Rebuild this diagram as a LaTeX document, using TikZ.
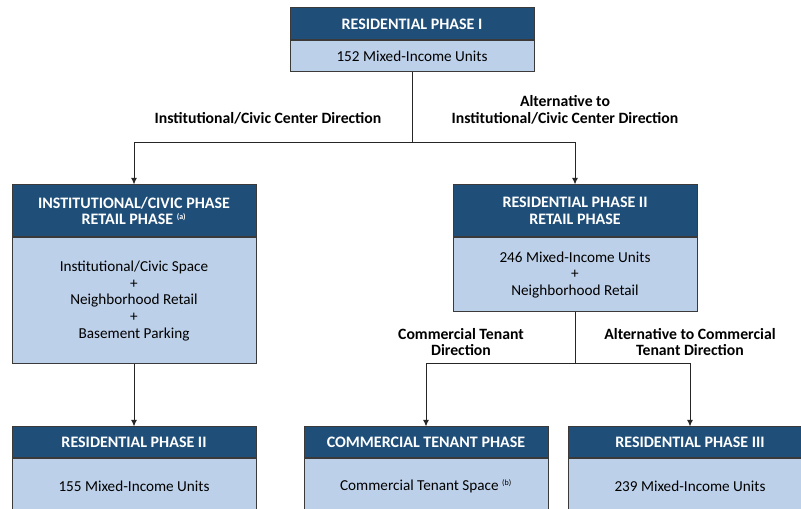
\documentclass[tikz,border=0pt]{standalone}
\usepackage{fontspec}
\setmainfont{Carlito}
\usetikzlibrary{positioning,arrows.meta}

\definecolor{hdrblue}{HTML}{1F4E79}
\definecolor{bdyblue}{HTML}{BDD0E9}
\definecolor{edgegray}{HTML}{3A3A3A}

\newcommand{\noteref}[1]{\textsuperscript{\fontsize{6}{6}\selectfont(#1)}}

\tikzset{
  hdr/.style={draw=edgegray,line width=0.75pt,fill=hdrblue,text=white,
    font=\bfseries\fontsize{12}{12.6}\selectfont,align=center,
    minimum width=183pt,inner sep=0pt},
  bdy/.style={draw=edgegray,line width=0.75pt,fill=bdyblue,
    font=\fontsize{11.4}{12.6}\selectfont,align=center,
    minimum width=183pt,inner sep=0pt},
  lbl/.style={font=\bfseries\fontsize{11.8}{12.6}\selectfont,align=center},
  arr/.style={draw=black!85,line width=0.75pt,-{Latex[length=5pt,width=4.5pt]}}
}

\begin{document}
\begin{tikzpicture}[x=0.75pt,y=-0.75pt]
    \useasboundingbox (0,0) rectangle (801,509);

    % phase I
    \node[hdr,minimum height=24pt] (resI) at (412,24) {RESIDENTIAL PHASE I};
    \node[bdy,minimum height=23.25pt,below=0pt of resI] (resIb) {152 Mixed-Income Units};

    % second level
    \node[hdr,minimum height=39pt] (civ) at (134,211)
      {INSTITUTIONAL/CIVIC PHASE\\RETAIL PHASE \noteref{a}};
    \node[bdy,minimum height=94.5pt,below=0pt of civ] (civb)
      {Institutional/Civic Space\\+\\Neighborhood Retail\\+\\Basement Parking};

    \node[hdr,minimum height=39pt] (resII) at (575,211)
      {RESIDENTIAL PHASE II\\RETAIL PHASE};
    \node[bdy,minimum height=55.5pt,below=0pt of resII] (resIIb)
      {246 Mixed-Income Units\\+\\Neighborhood Retail};

    % third level
    \node[hdr,minimum height=23.25pt] (resIIa) at (134,442.5) {RESIDENTIAL PHASE II};
    \node[bdy,minimum height=40.5pt,below=0pt of resIIa] (resIIab) {155 Mixed-Income Units};

    \node[hdr,minimum height=23.25pt] (com) at (426,442.5) {COMMERCIAL TENANT PHASE};
    \node[bdy,minimum height=40.5pt,below=0pt of com] (comb)
      {Commercial Tenant Space \noteref{b}};

    \node[hdr,minimum height=23.25pt] (resIII) at (690,442.5) {RESIDENTIAL PHASE III};
    \node[bdy,minimum height=40.5pt,below=0pt of resIII] (resIIIb) {239 Mixed-Income Units};

    % branch labels
    \node[lbl] (l1) at (268,118) {Institutional/Civic Center Direction};
    \node[lbl] (l2) at (565,110) {Alternative to\\Institutional/Civic Center Direction};
    \node[lbl] (l3) at (461,342) {Commercial Tenant\\Direction};
    \node[lbl] (l4) at (690,342) {Alternative to Commercial\\Tenant Direction};

    % connectors
    \coordinate (s1) at (412,143);
    \coordinate (s2) at (575,364);
    \draw[arr] (resIb.south) -- (s1) -| (civ.north);
    \draw[arr] (s1) -| (resII.north);
    \draw[arr] (civb.south) -- (resIIa.north);
    \draw[arr] (resIIb.south) -- (s2) -| (com.north);
    \draw[arr] (s2) -| (resIII.north);
\end{tikzpicture}
\end{document}
